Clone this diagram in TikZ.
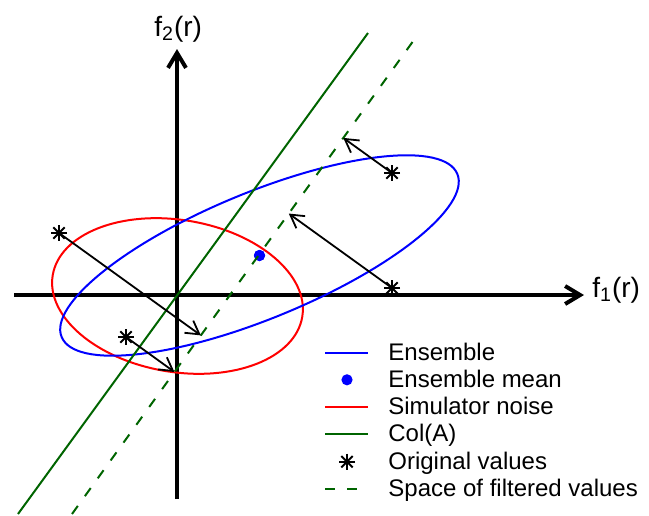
\documentclass[tikz,border=0pt]{standalone}
\usepackage{fontspec}
\setmainfont{Liberation Sans}
\definecolor{ensblue}{RGB}{0,0,255}
\definecolor{noisered}{RGB}{255,0,0}
\definecolor{colgreen}{RGB}{0,100,0}
\usetikzlibrary{arrows.meta,calc}

\begin{document}
\begin{tikzpicture}[x=0.5pt,y=-0.5pt,
  axisline/.style={line width=2pt,-{Straight Barb[length=7.5pt,width=9pt]}},
  projarrow/.style={line width=0.9pt,-{Straight Barb[length=6.5pt,width=7.5pt]}},
  origval/.style={inner sep=0pt,minimum size=10pt,path picture={
      \foreach \a in {0,45,90,135}
        \draw[line width=1pt] ([shift={(\a:4pt)}]path picture bounding box.center)
          -- ([shift={(\a+180:4pt)}]path picture bounding box.center);}},
  meandot/.style={circle,fill=ensblue,inner sep=0pt,minimum size=5.6pt},
  colline/.style={colgreen,line width=1pt},
  filtline/.style={colgreen,line width=1pt,dash pattern=on 5pt off 6pt},
  legtext/.style={anchor=base west,inner sep=0pt,font=\fontsize{12}{14}\selectfont},
  axlabel/.style={anchor=base west,inner sep=0pt,font=\fontsize{14}{16}\selectfont}]
  \useasboundingbox (0,0) rectangle (649,515);

  % axes
  \coordinate (xl) at (14,295);
  \coordinate (xr) at (584,295);
  \coordinate (yb) at (177,499);
  \coordinate (yt) at (177,49);
  \draw[axisline] (xl) -- (xr);
  \draw[axisline] (yb) -- (yt);
  \node[axlabel] (f1) at (592,297) {f\textsubscript{1}(r)};
  \node[axlabel] (f2) at (154,36) {f\textsubscript{2}(r)};

  % ensemble and noise
  \node[meandot] (mean) at (259.5,255.5) {};
  \coordinate (noise) at (177.5,296);
  \draw[noisered,line width=1pt,rotate around={-9.5:(noise)}] (noise) ellipse [x radius=63.25pt,y radius=38pt];
  \draw[ensblue,line width=1pt,rotate around={22.4:(mean)}] (mean.center) ellipse [x radius=107pt,y radius=31.5pt];
  \node[meandot] at (mean) {};

  % Col(A) and the filtered space
  \coordinate (ca) at (18,514);
  \coordinate (cb) at (368,33);
  \coordinate (fa) at (72,514);
  \coordinate (fb) at (419,33);
  \draw[colline] (ca) -- (cb);
  \draw[filtline] (fa) -- (fb);

  % original values, projected
  \node[origval] (s1) at (59,233) {};
  \node[origval] (s2) at (126,337) {};
  \node[origval] (s3) at (392,288) {};
  \node[origval] (s4) at (392,173) {};
  \foreach \s in {s1,s2,s3,s4}
    \draw[projarrow] (\s.center) -- ($(fa)!(\s.center)!(fb)$);

  % legend
  \draw[ensblue,line width=1pt] (325,352.5) coordinate (la1) -- (368,352.5) coordinate (lb1);
  \node[meandot] (lm) at (347,379.8) {};
  \draw[noisered,line width=1pt] (325,407) coordinate (la3) -- (368,407) coordinate (lb3);
  \draw[colline] (325,434.3) coordinate (la4) -- (368,434.3) coordinate (lb4);
  \node[origval] (ls) at (347,461.7) {};
  \draw[filtline] (325,489) coordinate (la6) -- (368,489) coordinate (lb6);
  \node[legtext] (t1) at (388,360) {Ensemble};
  \node[legtext] (t2) at (388,387.3) {Ensemble mean};
  \node[legtext] (t3) at (388,414.6) {Simulator noise};
  \node[legtext] (t4) at (388,441.9) {Col(A)};
  \node[legtext] (t5) at (388,469.2) {Original values};
  \node[legtext] (t6) at (388,496.5) {Space of filtered values};
\end{tikzpicture}
\end{document}
